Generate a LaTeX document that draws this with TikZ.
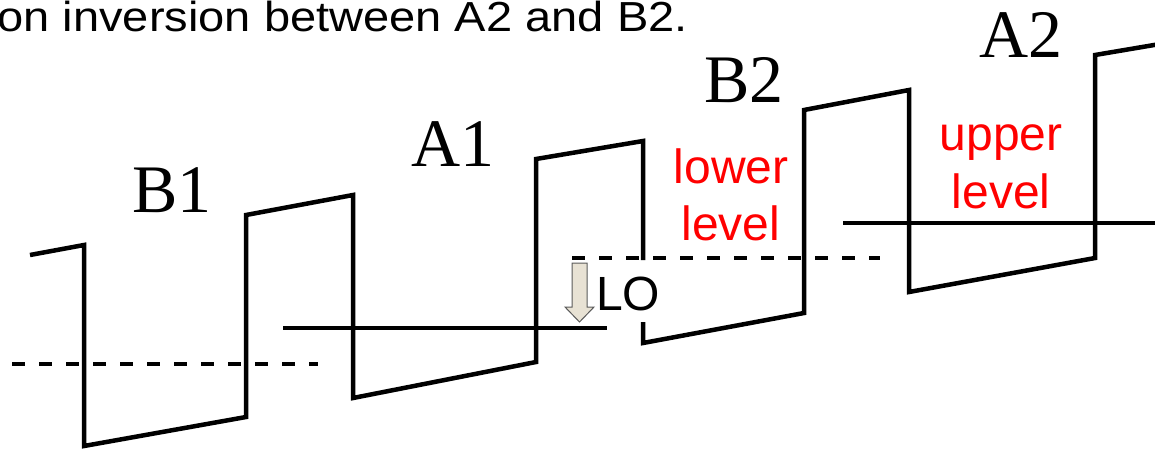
\documentclass[tikz,border=0pt]{standalone}
\usepackage{fontspec}
\setmainfont{Liberation Serif}
\setsansfont{Liberation Sans}
\newfontfamily\topfont[FakeStretch=1.12]{Liberation Sans}
\definecolor{arrowfill}{RGB}{232,226,212}
\definecolor{arrowline}{RGB}{90,90,90}
\begin{document}
\begin{tikzpicture}[x=1pt,y=-1pt,
  band/.style={line width=4.5pt, line join=miter},
  levelline/.style={line width=4.5pt},
  dashlevel/.style={line width=4.5pt, dash pattern=on 13pt off 14pt},
  lab/.style={font=\fontsize{68}{80}\selectfont, inner sep=0pt, anchor=base},
  redlab/.style={text=red, font=\sffamily\fontsize{48}{57.6}\selectfont, inner sep=0pt, anchor=base},
  lolab/.style={font=\sffamily\fontsize{48}{57.6}\selectfont, inner sep=0pt, anchor=base west},
  toplab/.style={font=\topfont\fontsize{42}{50}\selectfont, inner sep=0pt, anchor=base east},
  loarrow/.style={fill=arrowfill, draw=arrowline, line width=1pt, line join=miter}]
\clip (0,0) rectangle (1155,448);
% band profile
\draw[band] (30,255) -- (84,245) -- (84,446) -- (246,417) -- (246,215)
  -- (353,195) -- (353,398) -- (536,362) -- (536,159) -- (643,141) -- (643,260);
\draw[band] (643,322) -- (643,343) -- (804,313) -- (804,110) -- (909,90)
  -- (909,292) -- (1095,258) -- (1095,55) -- (1160,44);
% levels
\coordinate (d1a) at (12,364); \coordinate (d1b) at (318,364);
\coordinate (s1a) at (283,328); \coordinate (s1b) at (607,328);
\coordinate (d2a) at (572,258); \coordinate (d2b) at (880,258);
\coordinate (s2a) at (843,223); \coordinate (s2b) at (1160,223);
\draw[dashlevel] (d1a) -- (d1b);
\draw[levelline] (s1a) -- (s1b);
\draw[dashlevel] (d2a) -- (d2b);
\draw[levelline] (s2a) -- (s2b);
% LO arrow
\draw[loarrow] (572,263) -- (587,263) -- (587,307) -- (594,307) -- (579.5,322)
  -- (565,307) -- (572,307) -- cycle;
\node[lolab] (lo) at (596,310) {LO};
% labels
\node[lab] (b1) at (172,212) {B1};
\node[lab] (a1) at (453,166) {A1};
\node[lab] (b2) at (744,102) {B2};
\node[lab] (a2) at (1021,57) {A2};
\node[redlab] (low1) at (731,183) {lower};
\node[redlab] (low2) at (731,240) {level};
\node[redlab] (up1) at (1001,150) {upper};
\node[redlab] (up2) at (1001,208) {level};
\node[toplab] (top) at (688,31) {on inversion between A2 and B2.};
\end{tikzpicture}
\end{document}
